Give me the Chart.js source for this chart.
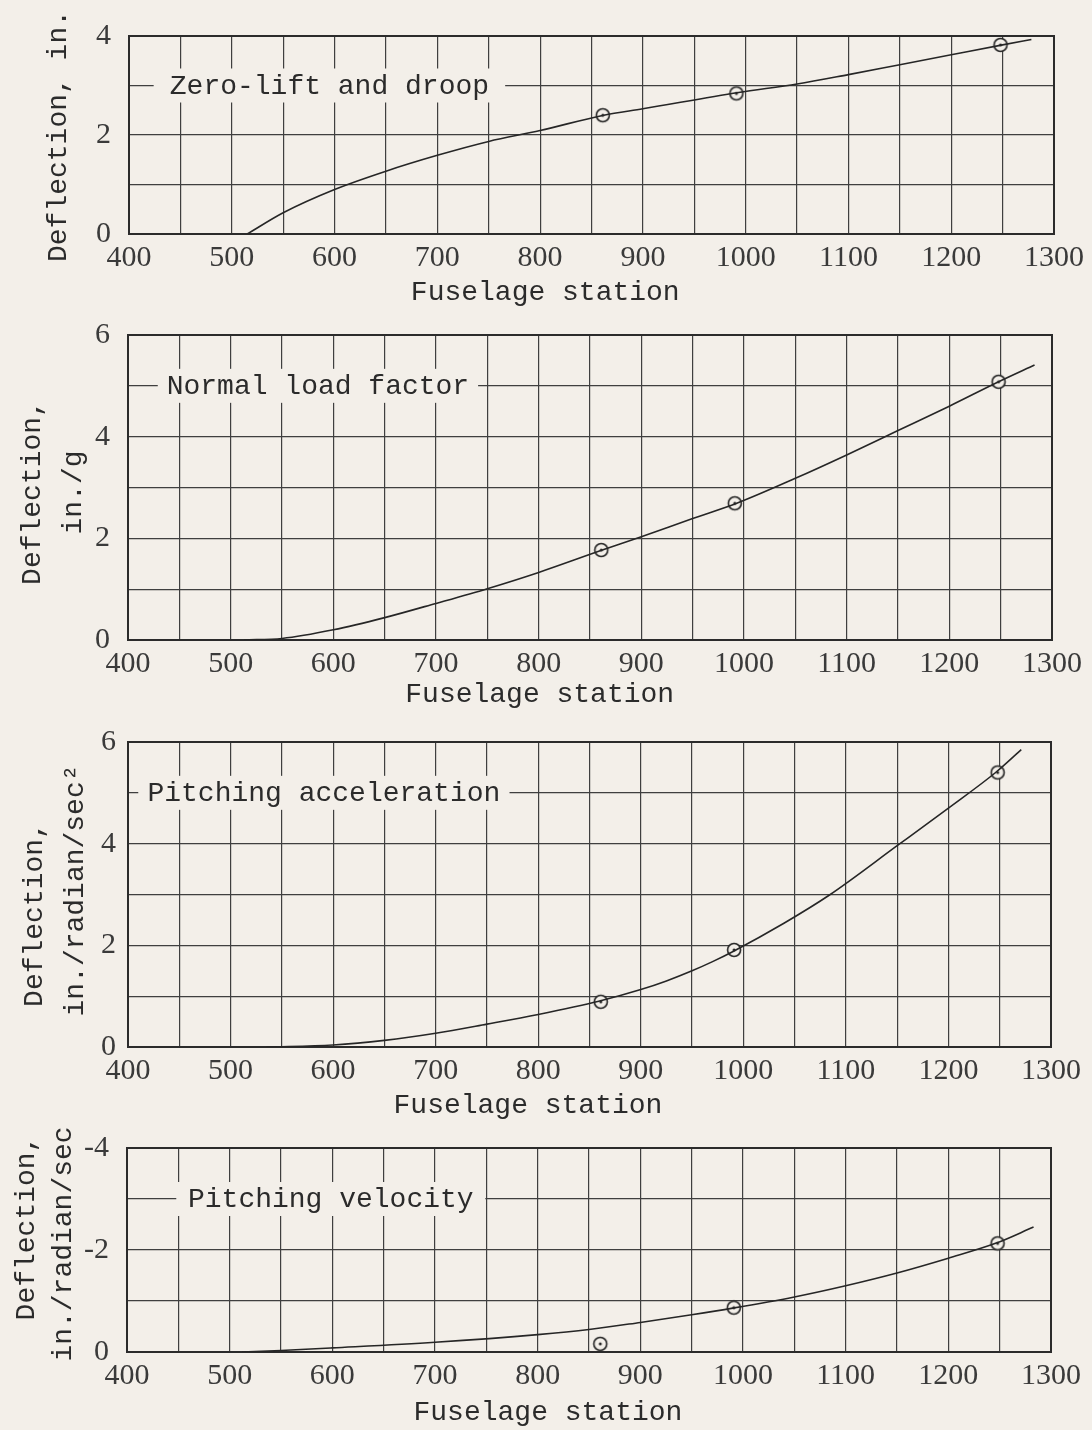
<!DOCTYPE html>
<html>
<head>
<meta charset="utf-8">
<script src="https://cdn.jsdelivr.net/npm/chart.js@4.4.1/dist/chart.umd.min.js"></script>
<style>
body{margin:0;background:#f3efe9;width:1092px;height:1430px;position:relative;overflow:hidden}
canvas{position:absolute;left:0}
</style>
</head>
<body>
<canvas id="c1"></canvas>
<canvas id="c2"></canvas>
<canvas id="c3"></canvas>
<canvas id="c4"></canvas>
<script>
// x axis labels (fuselage station)
var stationTicks=[400,500,600,700,800,900,1000,1100,1200,1300];
// stations of the measured points, same in every panel
var testStations=[861,991,1248];

// zero-lift and droop
var droopX=[515,550,600,650,700,750,800,862,900,993,1050,1100,1150,1200,1250,1278];
var droopY=[0,0.43,0.90,1.27,1.59,1.87,2.09,2.40,2.53,2.86,3.03,3.22,3.42,3.62,3.82,3.93];
var droopPts=[2.40,2.84,3.82];
var droopTicks=[0,2,4];

// normal load factor
var loadX=[513,550,600,650,700,750,800,862,900,950,993,1050,1100,1150,1200,1250,1283];
var loadY=[0,0.03,0.20,0.44,0.72,1.01,1.33,1.77,2.03,2.39,2.69,3.18,3.64,4.12,4.60,5.10,5.41];
var loadPts=[1.77,2.69,5.08];
var loadTicks=[0,2,4,6];

// pitching acceleration
var accX=[535,600,650,700,750,800,859,900,925,950,970,990,1040,1084,1150,1200,1246,1271];
var accY=[0,0.04,0.13,0.27,0.45,0.64,0.90,1.13,1.30,1.50,1.68,1.88,2.44,2.99,3.96,4.70,5.40,5.85];
var accPts=[0.89,1.91,5.40];
var accTicks=[0,2,4,6];

// pitching velocity
var velX=[512,550,600,700,800,850,900,950,990,1050,1100,1150,1200,1246,1283];
var velY=[0,-0.03,-0.08,-0.19,-0.34,-0.44,-0.58,-0.73,-0.86,-1.08,-1.30,-1.55,-1.84,-2.13,-2.45];
var velPts=[-0.16,-0.87,-2.13];
var velTicks=[0,-2,-4];

var paperCol='#f3efe9';
var inkCol='#2b2b2b';
var gridCol='#3f3f3f';
var tickFont={family:'"Liberation Serif", serif',size:30};
var monoFont='28px "Liberation Mono", monospace';

function ringImg(){
  var c=document.createElement('canvas');c.width=18;c.height=18;
  var g=c.getContext('2d');
  g.fillStyle=paperCol;g.strokeStyle='#222';g.lineWidth=1.6;
  g.beginPath();g.arc(9,9,6.5,0,Math.PI*2);g.fill();g.stroke();
  g.fillStyle='#222';g.beginPath();g.arc(9,9,1.5,0,Math.PI*2);g.fill();
  return c;
}
var ring=ringImg();

function decoPlugin(d){
  return {id:'paper',beforeDatasetsDraw:function(chart){
    var ctx=chart.ctx,a=chart.chartArea,xs=chart.scales.x,ys=chart.scales.y;
    ctx.save();
    ctx.strokeStyle=inkCol;ctx.lineWidth=2;
    ctx.strokeRect(a.left,a.top,a.right-a.left,a.bottom-a.top);
    var yp=ys.getPixelForValue(d.label.y),x0=xs.getPixelForValue(d.label.from),x1=xs.getPixelForValue(d.label.to);
    ctx.fillStyle=paperCol;ctx.fillRect(x0,yp-17,x1-x0,34);
    ctx.fillStyle=inkCol;ctx.font=monoFont;ctx.textAlign='center';ctx.textBaseline='middle';
    ctx.fillText(d.label.text,(x0+x1)/2,yp+1);
    ctx.fillText('Fuselage station',xs.getPixelForValue(d.xAt),a.bottom+d.xDy);
    var cy=(a.top+a.bottom)/2;
    d.yTitle.forEach(function(t){
      ctx.save();ctx.translate(t.x,cy+t.dy);ctx.rotate(-Math.PI/2);
      ctx.fillText(t.text,0,0);ctx.restore();
    });
    ctx.restore();
  }};
}

function makeChart(id,geo,cx,cy,py,yTicks,yMin,yMax,yRev,deco){
  var pad=Math.min(40,geo.top);
  var cTop=geo.top-pad;
  var cv=document.getElementById(id);
  cv.width=1092;cv.height=geo.bottom-cTop+85;cv.style.top=cTop+'px';
  var curve=cx.map(function(x,i){return {x:x,y:cy[i]};});
  var pts=testStations.map(function(x,i){return {x:x,y:py[i]};});
  return new Chart(cv,{
    type:'scatter',
    data:{datasets:[
      {data:curve,showLine:true,pointRadius:0,borderColor:'#262626',borderWidth:1.6,cubicInterpolationMode:'monotone'},
      {data:pts,pointStyle:ring,pointRadius:9,showLine:false}
    ]},
    options:{
      responsive:false,animation:false,
      layout:{padding:{top:pad,left:0,right:1092-geo.right,bottom:0}},
      plugins:{legend:{display:false},tooltip:{enabled:false}},
      scales:{
        x:{type:'linear',min:400,max:1300,
          afterFit:function(s){s.height=85;},
          grid:{color:gridCol,lineWidth:1.2,drawTicks:false},border:{display:false},
          ticks:{stepSize:50,autoSkip:false,maxRotation:0,minRotation:0,padding:6,color:'#3a3a3a',font:tickFont,
            callback:function(v){return stationTicks.indexOf(v)>=0?String(v):'';}}},
        y:{type:'linear',min:yMin,max:yMax,reverse:yRev,
          afterFit:function(s){s.width=geo.left;},
          grid:{color:gridCol,lineWidth:1.2,drawTicks:false},border:{display:false},
          ticks:{stepSize:1,padding:geo.yPad,color:'#3a3a3a',font:tickFont,
            callback:function(v){return yTicks.indexOf(v)>=0?String(v):'';}}}
      }
    },
    plugins:[decoPlugin(deco)]
  });
}

makeChart('c1',{top:31,bottom:234,left:129,right:1054,yPad:18},droopX,droopY,droopPts,droopTicks,0,4,false,
  {label:{text:'Zero-lift and droop',y:3,from:424,to:766},xAt:805,xDy:59,
   yTitle:[{text:'Deflection, in.',x:59,dy:1}]});
makeChart('c2',{top:335,bottom:640,left:128,right:1052,yPad:18},loadX,loadY,loadPts,loadTicks,0,6,false,
  {label:{text:'Normal load factor',y:5,from:429,to:741},xAt:801,xDy:55,
   yTitle:[{text:'Deflection,',x:33,dy:5},{text:'in./g',x:74,dy:5}]});
makeChart('c3',{top:742,bottom:1047,left:128,right:1051,yPad:12},accX,accY,accPts,accTicks,0,6,false,
  {label:{text:'Pitching acceleration',y:5,from:410,to:772},xAt:790,xDy:59,
   yTitle:[{text:'Deflection,',x:35,dy:20},{text:'in./radian/sec\u00b2',x:76,dy:-4}]});
makeChart('c4',{top:1148,bottom:1352,left:127,right:1051,yPad:18},velX,velY,velPts,velTicks,-4,0,true,
  {label:{text:'Pitching velocity',y:-3,from:448,to:749},xAt:810,xDy:61,
   yTitle:[{text:'Deflection,',x:27,dy:-22},{text:'in./radian/sec',x:64,dy:-6}]});
</script>
</body>
</html>
